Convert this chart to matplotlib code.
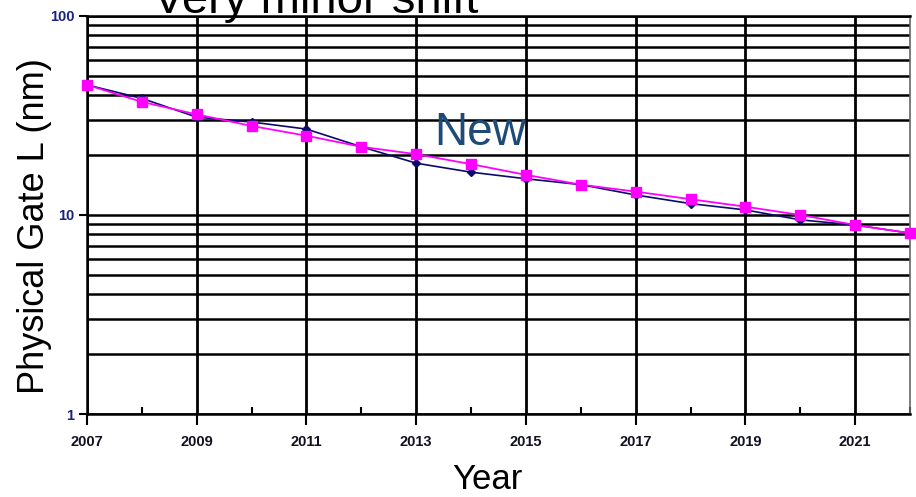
import matplotlib
matplotlib.use("Agg")

import matplotlib.pyplot as plt
from matplotlib.ticker import FixedLocator, LogLocator, NullFormatter

plt.rcParams["font.family"] = ["Liberation Sans", "DejaVu Sans"]

# ---- Data: physical gate length roadmap (nm) ----
years = list(range(2007, 2023))
gate_old = [45, 38.5, 31, 29.3, 27, 22, 18.2, 16.4, 15.2, 14.2, 12.6, 11.4, 10.6, 9.45, 8.9, 8.1]
gate_new = [45, 37, 32, 28, 25, 22, 20.2, 18, 15.9, 14.2, 13.1, 12.0, 11.0, 10.0, 8.9, 8.1]
major_years = [2007, 2009, 2011, 2013, 2015, 2017, 2019, 2021]
minor_years = [2008, 2010, 2012, 2014, 2016, 2018, 2020, 2022]

fig = plt.figure(figsize=(9.16, 4.97), dpi=100)
ax = fig.add_axes([0.095, 0.167, 0.8985, 0.801])

ax.set_yscale("log")
ax.set_ylim(1, 100)
ax.set_xlim(2007, 2022)

# grid: odd years vertical, every log minor step horizontal
ax.xaxis.set_major_locator(FixedLocator(major_years))
ax.xaxis.set_minor_locator(FixedLocator(minor_years))
ax.yaxis.set_major_locator(FixedLocator([1, 10, 100]))
ax.yaxis.set_minor_locator(LogLocator(base=10, subs=range(2, 10)))
ax.yaxis.set_minor_formatter(NullFormatter())
ax.set_yticklabels(["1", "10", "100"])

ax.grid(True, which="major", axis="x", color="black", lw=2)
ax.grid(True, which="both", axis="y", color="black", lw=1.8)

ax.tick_params(axis="x", which="major", direction="out", length=8, width=1.5,
               labelsize=10.5, labelcolor="#111122", pad=7)
ax.tick_params(axis="x", which="minor", direction="in", length=5, width=1.5)
ax.tick_params(axis="y", which="major", direction="out", length=6, width=1.5,
               labelsize=10.5, labelcolor="#1a237e", pad=3)
ax.tick_params(axis="y", which="minor", length=0)
for lab in ax.get_xticklabels() + ax.get_yticklabels():
    lab.set_fontweight("bold")

for side in ["top", "left", "bottom", "right"]:
    ax.spines[side].set_linewidth(1.8)
ax.spines["right"].set_linewidth(1.2)
ax.spines["right"].set_color("#666666")

ax.plot(years, gate_old, color="#0a0a6e", marker="D", markersize=4, lw=1.2, zorder=3)
ax.plot(years, gate_new, color="#ff00ff", marker="s", markersize=6.5, lw=1.3,
        zorder=4, clip_on=False)

ax.text(2013.33, 22.5, "New", fontsize=33, color="#1e4a78", zorder=5)

ax.set_ylabel("Physical Gate L (nm)", fontsize=26)
ax.yaxis.set_label_coords(-0.0425, 0.472)
ax.set_xlabel("Year", fontsize=25)
ax.xaxis.set_label_coords(0.487, -0.123)

fig.text(0.345, 0.974, "Very minor shift", fontsize=34, ha="center", va="baseline")

fig.savefig("out.png", dpi=100)
plt.close(fig)
